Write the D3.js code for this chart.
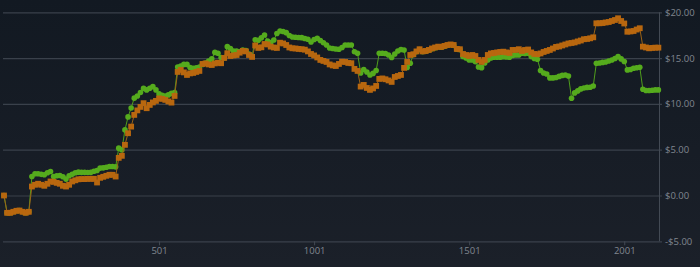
<!DOCTYPE html>
<html>
<head>
<meta charset="utf-8">
<script src="https://cdn.jsdelivr.net/npm/d3@7"></script>
<style>
  html, body { margin: 0; padding: 0; background: #161c26; }
  svg { display: block; }
  text { font-family: "Open Sans", sans-serif; }
</style>
</head>
<body>
<svg id="chart" width="700" height="267"></svg>
<script>
// Sample positions (every 10th observation)
var days = d3.range(1, 2112, 10);

// Orange series
var orangeValues = [
  0.00, -1.89, -1.89, -1.78, -1.67, -1.64, -1.78, -1.89, -1.78, 0.98,
  1.17, 1.28, 1.17, 1.06, 1.28, 1.53, 1.49, 1.38, 1.28, 1.06,
  0.98, 1.17, 1.53, 1.66, 1.77, 1.79, 1.79, 1.82, 1.82, 1.82,
  1.42, 1.93, 2.04, 2.15, 2.26, 2.26, 2.07, 4.11, 4.33, 5.53,
  6.80, 7.52, 8.80, 9.29, 9.67, 10.08, 9.53, 9.89, 10.16, 10.33,
  10.60, 10.55, 10.44, 10.27, 10.14, 10.87, 13.49, 13.71, 13.44, 13.16,
  13.33, 13.38, 13.49, 13.60, 14.36, 14.42, 14.31, 14.25, 14.42, 14.50,
  14.44, 15.02, 15.53, 15.23, 15.29, 15.34, 15.59, 15.78, 15.73, 15.34,
  15.13, 16.38, 16.11, 16.18, 16.54, 16.49, 16.25, 16.16, 16.11, 16.68,
  16.60, 16.43, 16.16, 16.07, 16.05, 16.00, 15.97, 15.92, 15.73, 15.45,
  15.29, 15.07, 14.80, 14.69, 14.58, 14.31, 14.20, 14.14, 14.36, 14.61,
  14.58, 14.47, 14.44, 13.82, 13.60, 11.89, 12.07, 11.74, 11.53, 11.69,
  11.96, 12.73, 12.78, 12.69, 12.56, 12.40, 12.94, 13.05, 13.16, 13.93,
  14.58, 15.34, 15.42, 15.73, 15.97, 15.73, 15.78, 15.89, 16.05, 16.16,
  16.25, 16.22, 16.33, 16.43, 16.49, 16.43, 16.00, 15.97, 15.45, 15.34,
  15.23, 15.34, 15.23, 14.80, 14.58, 14.80, 15.34, 15.51, 15.56, 15.62,
  15.67, 15.70, 15.62, 15.56, 15.89, 15.89, 15.97, 15.78, 15.89, 15.94,
  15.62, 15.45, 15.42, 15.51, 15.67, 15.78, 15.89, 16.05, 16.22, 16.27,
  16.38, 16.49, 16.60, 16.65, 16.71, 16.82, 16.92, 17.06, 17.09, 17.16,
  17.27, 18.80, 18.80, 18.83, 18.89, 18.94, 19.05, 19.16, 19.35, 19.05,
  18.78, 17.88, 17.91, 17.96, 18.12, 18.26, 16.25, 16.16, 16.07, 16.11,
  16.14, 16.14
];

// Green series
var greenValues = [
  0.00, -1.89, -1.89, -1.78, -1.67, -1.64, -1.78, -1.89, -1.78, 2.07,
  2.37, 2.37, 2.31, 2.26, 2.48, 2.62, 2.07, 2.15, 2.18, 2.04,
  1.79, 2.15, 2.31, 2.48, 2.55, 2.53, 2.53, 2.51, 2.53, 2.64,
  2.73, 2.99, 3.02, 3.08, 3.16, 3.16, 3.13, 5.17, 4.98, 7.16,
  8.58, 9.56, 10.63, 10.87, 11.25, 11.69, 11.53, 11.71, 11.89, 11.53,
  11.09, 10.93, 10.87, 10.98, 11.15, 11.23, 14.03, 14.14, 14.31, 14.31,
  13.98, 13.89, 13.93, 14.03, 14.31, 14.47, 14.69, 14.91, 15.62, 15.53,
  15.07, 15.02, 16.25, 16.03, 15.78, 15.78, 15.69, 15.88, 15.83, 15.44,
  15.23, 16.99, 16.94, 17.21, 17.52, 16.87, 16.71, 16.98, 17.69, 17.96,
  17.91, 17.78, 17.47, 17.31, 17.27, 17.25, 17.23, 17.14, 17.06, 16.76,
  17.03, 17.16, 16.92, 16.68, 16.43, 16.11, 16.05, 16.00, 15.97, 16.16,
  16.43, 16.43, 16.43, 15.70, 15.53, 13.38, 13.76, 13.49, 13.16, 13.33,
  13.65, 15.53, 15.53, 15.51, 15.34, 15.07, 15.45, 15.78, 15.94, 15.89,
  13.98, 14.44, 15.38, 15.70, 15.93, 15.70, 15.74, 15.85, 16.01, 16.12,
  16.21, 16.18, 16.29, 16.39, 16.45, 16.39, 15.96, 15.93, 15.18, 15.02,
  14.80, 14.80, 14.61, 14.03, 13.96, 14.47, 14.80, 15.02, 15.09, 15.09,
  15.09, 15.16, 15.12, 15.09, 15.29, 15.34, 15.34, 15.53, 15.51, 15.53,
  15.18, 14.96, 14.87, 13.65, 13.38, 13.27, 12.84, 12.84, 12.89, 13.00,
  13.11, 13.16, 13.05, 10.62, 11.20, 11.42, 11.64, 11.74, 11.80, 11.82,
  11.96, 14.44, 14.47, 14.53, 14.58, 14.69, 14.80, 14.96, 15.16, 14.91,
  14.63, 13.71, 13.76, 13.89, 13.95, 14.00, 11.60, 11.47, 11.47, 11.49,
  11.53, 11.53
];

var yTicks = [-5, 0, 5, 10, 15, 20];
var xTicks = [501, 1001, 1501, 2001];

var svg = d3.select("svg#chart");

//Background gradient
var defs = svg.append("defs");
var grad = defs.append("linearGradient")
    .attr("id", "bg")
    .attr("x1", 0).attr("y1", 0).attr("x2", 0).attr("y2", 1);
grad.append("stop").attr("offset", "0%").attr("stop-color", "#121922");
grad.append("stop").attr("offset", "100%").attr("stop-color", "#1b2029");
svg.append("rect")
    .attr("width", 700).attr("height", 267)
    .attr("fill", "url(#bg)");

var x = d3.scaleLinear().domain([1, 2113]).range([4, 659]);
var y = d3.scaleLinear().domain([-5, 20]).range([241.3, 12.3]);

//Y axis on the right, ticks stretched left to act as gridlines
var yAxis = svg.append("g")
    .attr("transform", "translate(3,0)")
    .call(d3.axisRight(y)
      .tickValues(yTicks)
      .tickSize(659)
      .tickPadding(3)
      .tickFormat(function (d) { return (d < 0 ? "-$" : "$") + Math.abs(d).toFixed(2); }));
yAxis.select(".domain").remove();
yAxis.selectAll(".tick line")
    .attr("stroke", "#3a414b")
    .attr("stroke-width", 1.2);
yAxis.selectAll(".tick text")
    .attr("fill", "#80868f")
    .style("font-size", "9.5px");

//Vertical axis line
svg.append("line")
    .attr("x1", 659.5).attr("x2", 659.5)
    .attr("y1", y(20)).attr("y2", y(-5))
    .attr("stroke", "#434a54")
    .attr("stroke-width", 1);

//X axis
var xAxis = svg.append("g")
    .attr("transform", "translate(0," + y(-5) + ")")
    .call(d3.axisBottom(x)
      .tickValues(xTicks)
      .tickSize(4)
      .tickPadding(2)
      .tickFormat(d3.format("d")));
xAxis.select(".domain").remove();
xAxis.selectAll(".tick line").attr("stroke", "#434a54");
xAxis.selectAll(".tick text")
    .attr("fill", "#80868f")
    .style("font-size", "9.5px");

function series(values) {
  return values.map(function (v, i) { return { day: days[i], value: v }; });
}

var line = d3.line()
    .x(function (d) { return x(d.day); })
    .y(function (d) { return y(d.value); });

//Green series first, orange drawn on top
var green = series(greenValues);
var orange = series(orangeValues);

svg.append("path")
    .datum(green)
    .attr("fill", "none")
    .attr("stroke", "#4f9e1c")
    .attr("stroke-width", 1)
    .attr("d", line);
svg.append("g").selectAll("circle")
    .data(green)
    .enter().append("circle")
      .attr("cx", function (d) { return x(d.day); })
      .attr("cy", function (d) { return y(d.value); })
      .attr("r", 2.8)
      .attr("fill", "#55ab1d");

svg.append("path")
    .datum(orange)
    .attr("fill", "none")
    .attr("stroke", "#9c6316")
    .attr("stroke-width", 1)
    .attr("d", line);
svg.append("g").selectAll("rect")
    .data(orange)
    .enter().append("rect")
      .attr("x", function (d) { return x(d.day) - 2.9; })
      .attr("y", function (d) { return y(d.value) - 2.9; })
      .attr("width", 5.8)
      .attr("height", 5.8)
      .attr("fill", "#b8670f");
</script>
</body>
</html>
